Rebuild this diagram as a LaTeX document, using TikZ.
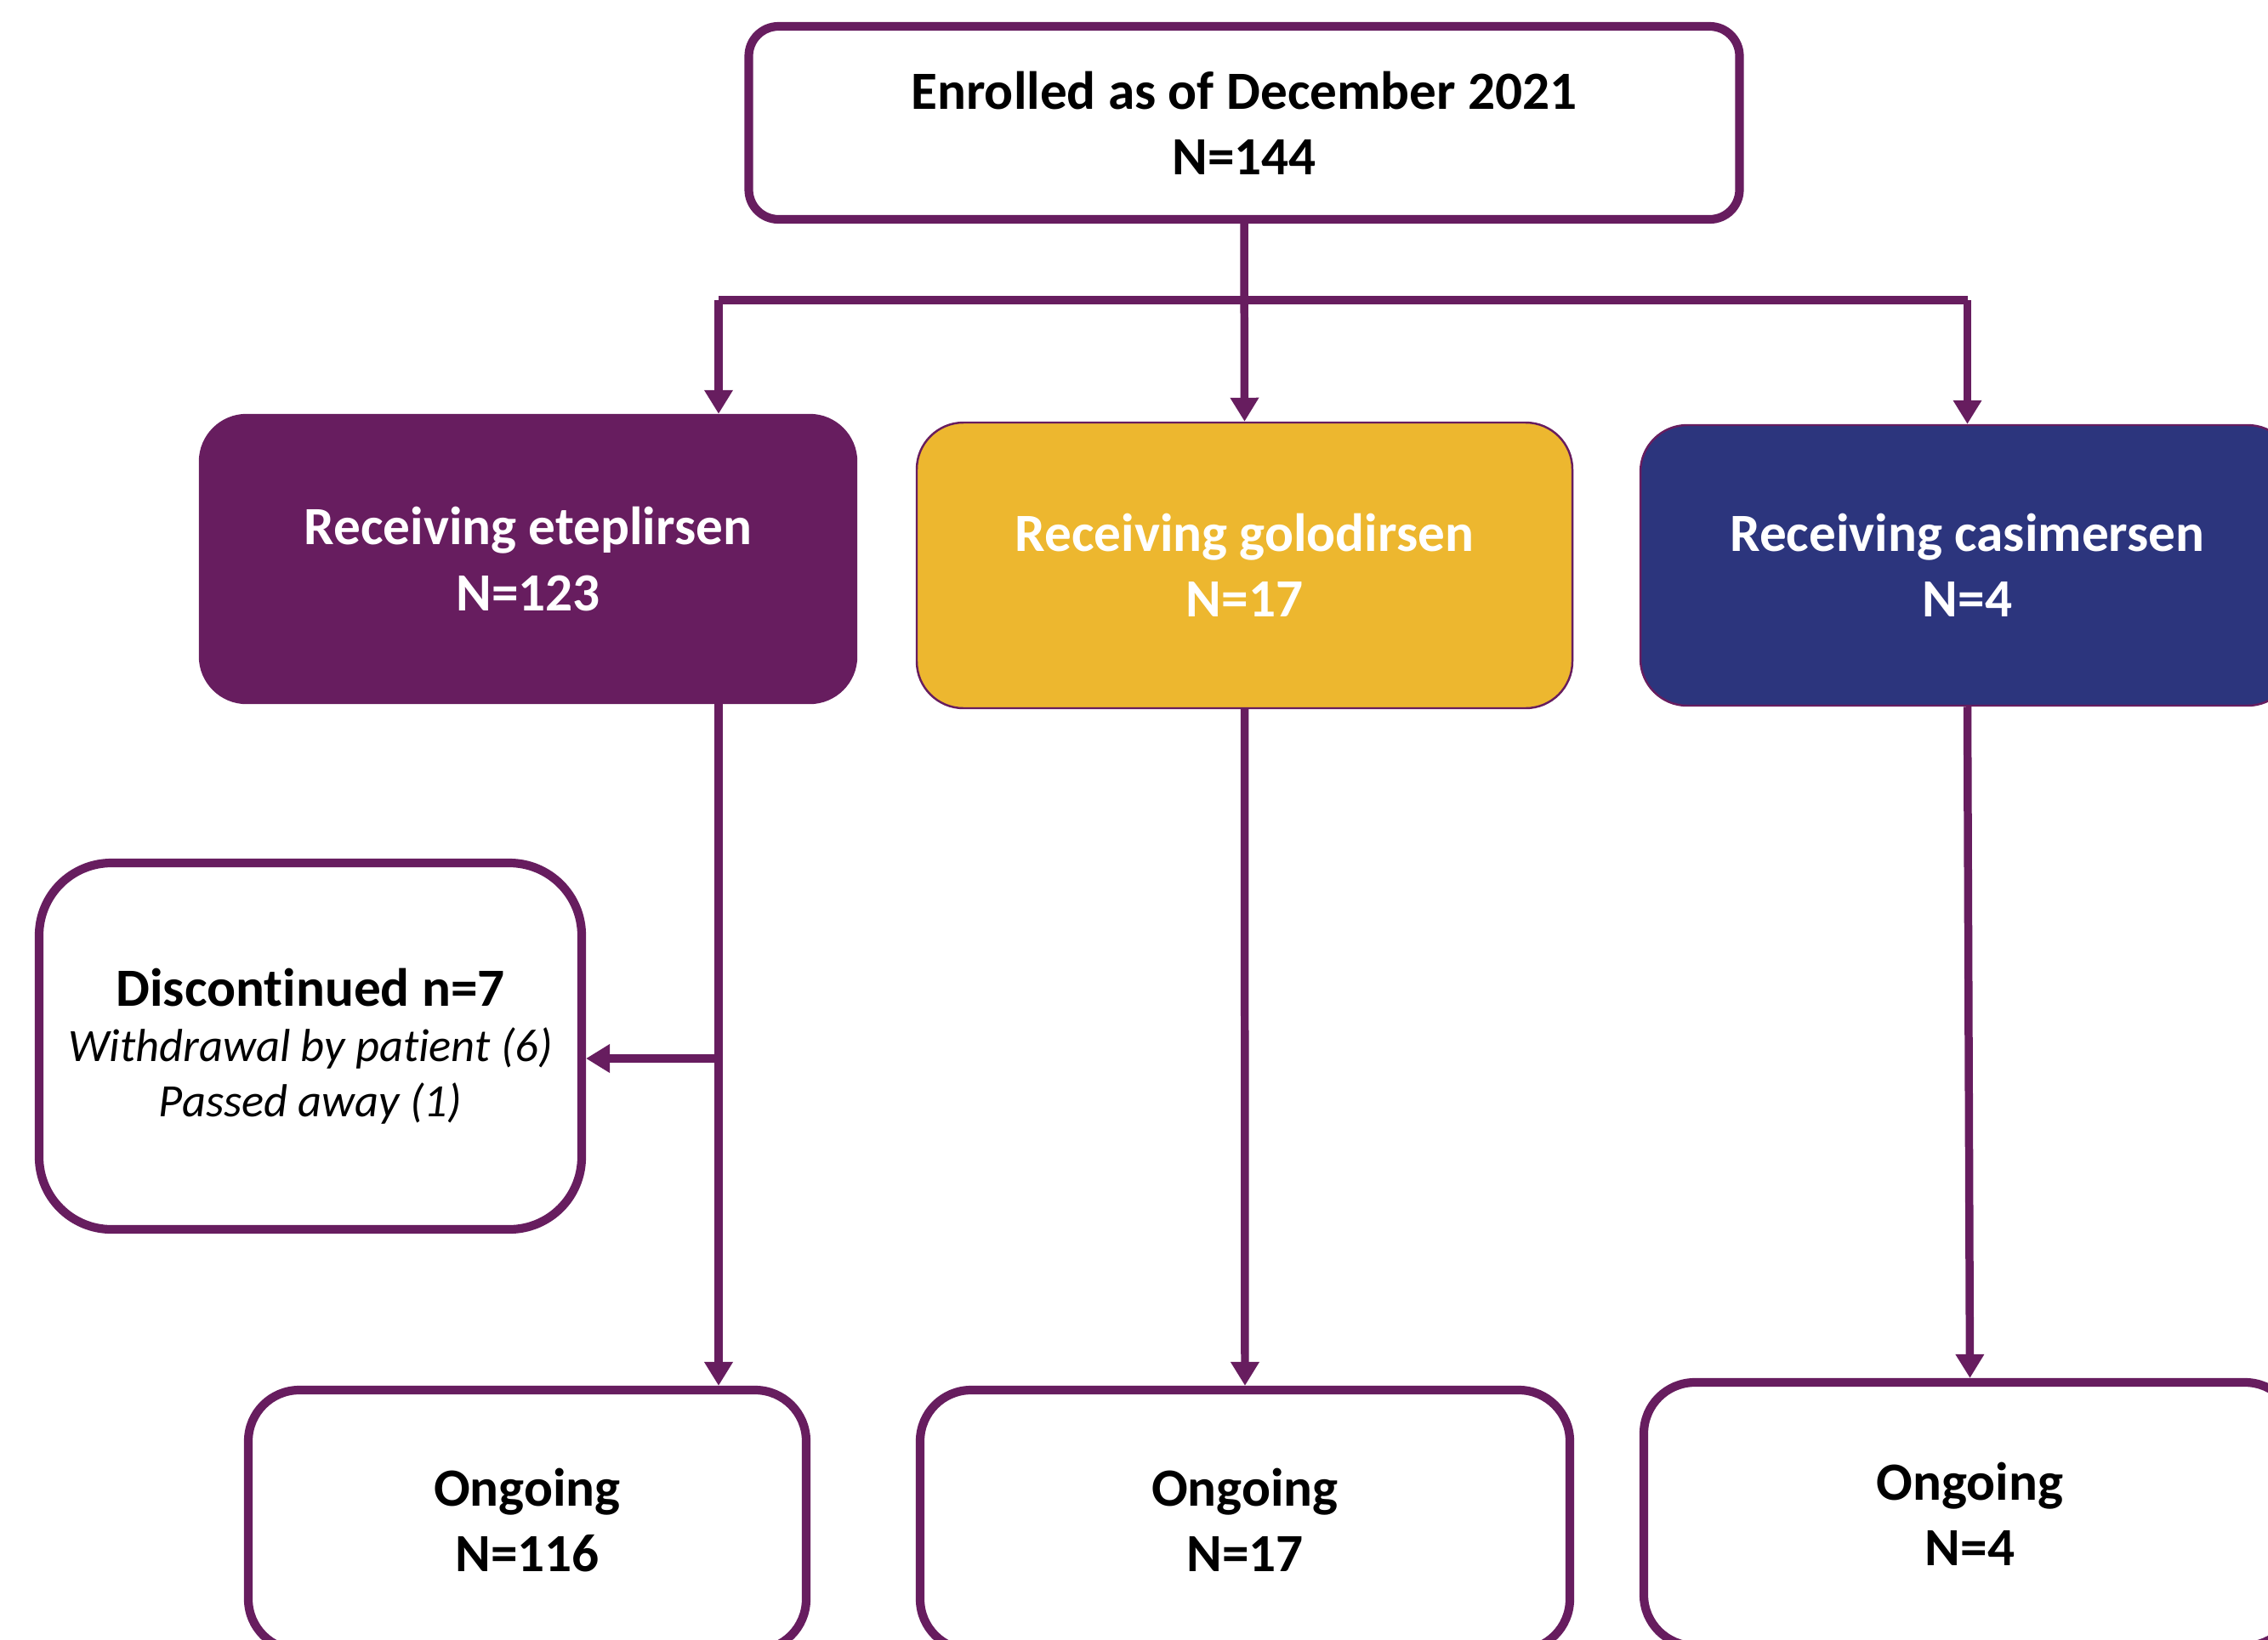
\documentclass[tikz,border=0pt]{standalone}
\usepackage{fontspec}
\setmainfont[Ligatures=NoCommon]{Carlito}
\usetikzlibrary{arrows.meta,positioning}
\definecolor{plum}{RGB}{103,29,95}
\definecolor{gold}{RGB}{237,183,47}
\definecolor{navy}{RGB}{44,53,125}
\newcommand\reason[1]{{\mdseries\itshape\fontsize{15.5}{18}\selectfont #1}}

\begin{document}
\begin{tikzpicture}[
    box/.style={draw=plum, line width=2.9pt, rounded corners=0.6cm, align=center,
                font=\fontsize{18}{22}\selectfont\bfseries, inner sep=0pt},
    drug/.style={box, line width=0.7pt, text=white, rounded corners=0.55cm},
    arr/.style={-{Triangle[length=0.28cm, width=0.32cm]}, plum, line width=2.7pt},
]
\useasboundingbox (0,0) rectangle (26.67,-19.28);
\clip (0,0) rectangle (26.67,-19.28);

% Enrolment
\node[box, minimum width=11.65cm, minimum height=2.27cm, rounded corners=0.35cm] (enrol) at (14.63,-1.445)
    {Enrolled as of December 2021\\N=144};

% Treatment arms
\node[drug, fill=plum, minimum width=7.72cm, minimum height=3.39cm] (ete) at (6.21,-6.575)
    {Receiving eteplirsen\\N=123};
\node[drug, fill=gold, minimum width=7.71cm, minimum height=3.36cm] (golo) at (14.635,-6.65)
    {Receiving golodirsen\\N=17};
\node[drug, fill=navy, minimum width=7.69cm, minimum height=3.30cm] (casi) at (23.135,-6.65)
    {Receiving casimersen\\N=4};

% Discontinued
\node[box, minimum width=6.38cm, minimum height=4.31cm, rounded corners=0.85cm] (disc) at (3.65,-12.305)
    {Discontinued n=7\\[-3.5pt] \reason{Withdrawal by patient (6)}\\[-3.5pt] \reason{Passed away (1)}};

% Ongoing
\node[box, minimum width=6.56cm, minimum height=3.06cm] (ong1) at (6.20,-17.88) {Ongoing\\N=116};
\node[box, minimum width=7.64cm, minimum height=3.06cm] (ong2) at (14.64,-17.88) {Ongoing\\N=17};
\node[box, minimum width=7.67cm, minimum height=3.10cm] (ong3) at (23.165,-17.81) {Ongoing\\N=4};

% Split from enrolment
\coordinate (busL) at (8.45,-3.53);
\coordinate (busR) at (23.135,-3.53);
\coordinate (split) at (8.45,-12.45);
\draw[plum, line width=2.7pt] (busL) -- (busR);
\draw[arr] (enrol.south) -- (golo.north);
\draw[arr] (busL) -- (busL |- ete.north);
\draw[arr] (busR) -- (casi.north);

% Follow-up
\draw[arr] (busL |- ete.south) -- (busL |- ong1.north);
\draw[arr] (split) -- (disc.east |- split);
\draw[arr] (golo.south) -- (ong2.north);
\draw[arr] (casi.south) -- (ong3.north);
\end{tikzpicture}
\end{document}
